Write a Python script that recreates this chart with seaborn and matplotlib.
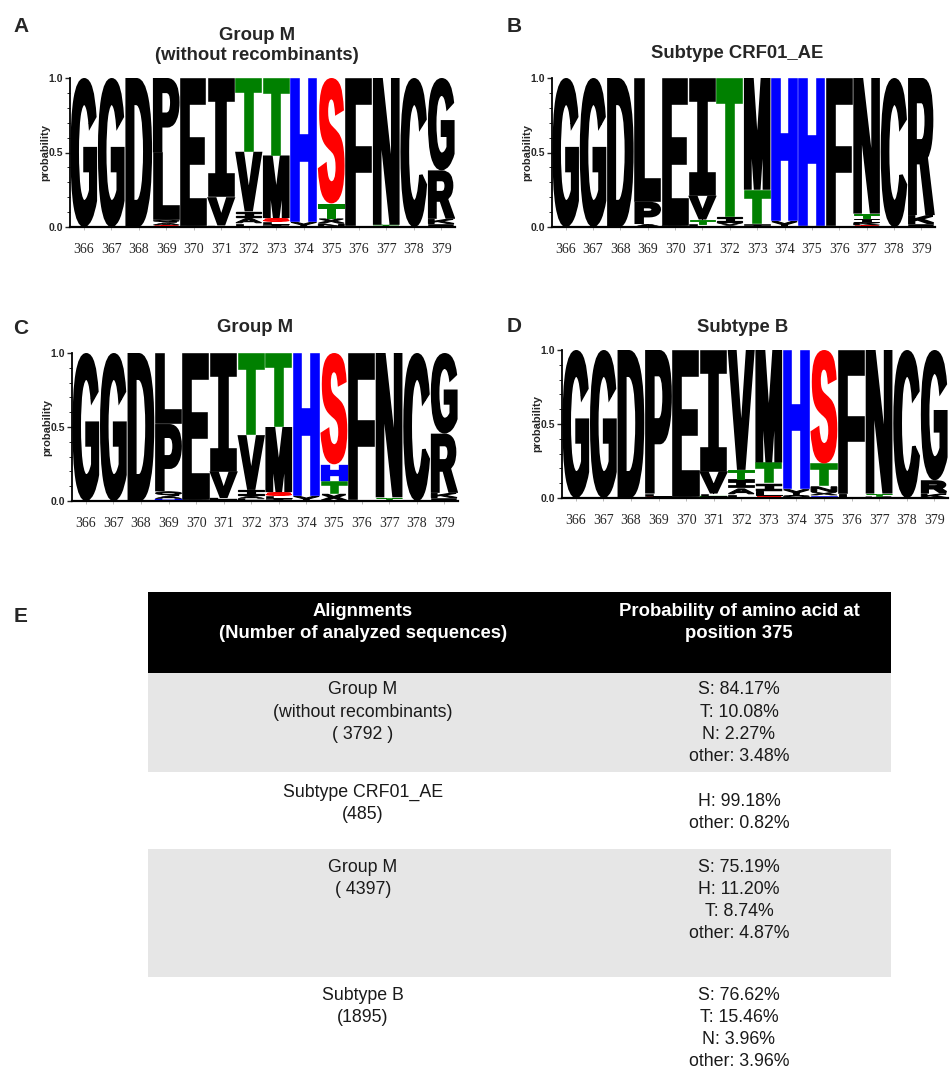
import matplotlib
matplotlib.use("Agg")
import matplotlib.pyplot as plt
import seaborn as sns
from matplotlib.textpath import TextPath
from matplotlib.patches import PathPatch, Rectangle
from matplotlib.font_manager import FontProperties
from matplotlib.transforms import Affine2D
from matplotlib.ticker import MultipleLocator

sns.set_style("ticks")
plt.rcParams["font.family"] = ["Liberation Sans", "DejaVu Sans"]

# ---------------------------------------------------------------- data
positions = [366, 367, 368, 369, 370, 371, 372, 373, 374, 375, 376, 377, 378, 379]

# residue frequencies at position 375 (percent) for each alignment
aln_names = [["Group M", "(without recombinants)"], ["Subtype CRF01_AE"],
             ["Group M"], ["Subtype B"]]
aln_counts = ["( 3792 )", "(485)", "( 4397)", "(1895)"]
res375 = [["S", "T", "N"], ["H"], ["S", "H", "T"], ["S", "T", "N"]]
pct375 = [[84.17, 10.08, 2.27], [99.18], [75.19, 11.20, 8.74], [76.62, 15.46, 3.96]]
other375 = [3.48, 0.82, 4.87, 3.96]
# how the "other" share is drawn in each logo column 375
other375_parts = [[("X", 3.48)], [("X", 0.82)], [("X", 4.87)], [("H", 1.80), ("X", 2.16)]]

# letter probabilities per position (position 375 is filled from the table values)
logo_A = [
    [("G", 1.00)],
    [("G", 1.00)],
    [("D", 1.00)],
    [("S", 0.012), ("A", 0.018), ("Q", 0.020), ("L", 0.45), ("P", 0.50)],
    [("D", 0.01), ("E", 0.99)],
    [("L", 0.01), ("V", 0.19), ("I", 0.80)],
    [("L", 0.025), ("A", 0.035), ("I", 0.045), ("V", 0.40), ("T", 0.495)],
    [("I", 0.015), ("L", 0.020), ("S", 0.025), ("M", 0.42), ("T", 0.52)],
    [("Y", 0.035), ("H", 0.965)],
    None,
    [("L", 0.01), ("F", 0.99)],
    [("T", 0.015), ("N", 0.985)],
    [("C", 1.00)],
    [("E", 0.020), ("K", 0.035), ("R", 0.325), ("G", 0.62)],
]
logo_B = [
    [("G", 1.00)],
    [("G", 1.00)],
    [("D", 1.00)],
    [("A", 0.02), ("P", 0.15), ("L", 0.83)],
    [("D", 0.01), ("E", 0.99)],
    [("L", 0.02), ("T", 0.03), ("V", 0.16), ("I", 0.79)],
    [("A", 0.01), ("V", 0.02), ("I", 0.04), ("T", 0.93)],
    [("I", 0.02), ("T", 0.23), ("M", 0.75)],
    [("Y", 0.04), ("H", 0.96)],
    None,
    [("L", 0.005), ("F", 0.995)],
    [("S", 0.012), ("K", 0.018), ("I", 0.028), ("T", 0.032), ("N", 0.91)],
    [("C", 1.00)],
    [("E", 0.02), ("K", 0.06), ("R", 0.92)],
]
logo_C = [
    [("G", 1.00)],
    [("G", 1.00)],
    [("D", 1.00)],
    [("H", 0.015), ("A", 0.020), ("Q", 0.030), ("P", 0.455), ("L", 0.48)],
    [("D", 0.01), ("E", 0.99)],
    [("T", 0.008), ("L", 0.012), ("V", 0.18), ("I", 0.80)],
    [("L", 0.015), ("A", 0.020), ("I", 0.040), ("V", 0.37), ("T", 0.555)],
    [("I", 0.015), ("L", 0.020), ("S", 0.025), ("M", 0.44), ("T", 0.50)],
    [("Y", 0.035), ("H", 0.965)],
    None,
    [("L", 0.01), ("F", 0.99)],
    [("K", 0.005), ("T", 0.020), ("N", 0.975)],
    [("C", 1.00)],
    [("E", 0.020), ("K", 0.035), ("R", 0.40), ("G", 0.545)],
]
logo_D = [
    [("G", 1.00)],
    [("G", 1.00)],
    [("D", 1.00)],
    [("S", 0.012), ("L", 0.018), ("P", 0.97)],
    [("D", 0.01), ("E", 0.99)],
    [("T", 0.012), ("L", 0.018), ("V", 0.15), ("I", 0.82)],
    [("L", 0.025), ("A", 0.040), ("I", 0.060), ("T", 0.065), ("V", 0.81)],
    [("S", 0.015), ("L", 0.035), ("I", 0.050), ("T", 0.14), ("M", 0.76)],
    [("Q", 0.02), ("Y", 0.04), ("H", 0.94)],
    None,
    [("L", 0.03), ("F", 0.97)],
    [("K", 0.01), ("T", 0.02), ("N", 0.97)],
    [("C", 1.00)],
    [("K", 0.03), ("R", 0.09), ("G", 0.88)],
]
logos = [logo_A, logo_B, logo_C, logo_D]
logo_titles = [["Group M", "(without recombinants)"], ["Subtype CRF01_AE"],
               ["Group M"], ["Subtype B"]]
panel_letters = ["A", "B", "C", "D"]

letter_colors = {"S": "#ff0000", "T": "#008000", "H": "#0000ff"}

# ---------------------------------------------------------------- figure
W, H = 950, 1072
fig = plt.figure(figsize=(W / 100, H / 100), dpi=100)


def fx(px):
    return px / W


def fy(py):
    return 1 - py / H


# ---- table (panel E), drawn in a pixel-coordinate overlay
tab = fig.add_axes([0, 0, 1, 1])
tab.set_xlim(0, W)
tab.set_ylim(H, 0)
tab.axis("off")

row_edges = [592, 673, 772, 849, 977, 1072]
row_fills = ["black", "#e6e6e6", "white", "#e6e6e6", "white"]
for (y0, y1), fc in zip(zip(row_edges[:-1], row_edges[1:]), row_fills):
    tab.add_patch(Rectangle((148, y0), 891 - 148, y1 - y0, facecolor=fc,
                            edgecolor="none"))

col1_x, col2_x = 363, 739
hdr_kw = dict(color="white", fontsize=13.3, fontweight="bold", ha="center", va="center")
tab.text(col1_x, 612, "Alignments", **hdr_kw)
tab.text(col1_x, 633, "(Number of analyzed sequences)", **hdr_kw)
tab.text(col2_x, 612, "Probability of amino acid at", **hdr_kw)
tab.text(col2_x, 634, "position 375", **hdr_kw)

body_kw = dict(color="#1a1a1a", fontsize=12.8, ha="center", va="center")
col1_first = [690, 792, 867, 995]
col2_first = [690, 801, 867, 995]
gap = 22.3
for i in range(4):
    lines1 = aln_names[i] + [aln_counts[i]]
    for k, s in enumerate(lines1):
        tab.text(col1_x, col1_first[i] + k * gap, s, **body_kw)
    lines2 = [f"{r}: {v:.2f}%" for r, v in zip(res375[i], pct375[i])]
    lines2.append(f"other: {other375[i]:.2f}%")
    for k, s in enumerate(lines2):
        tab.text(col2_x, col2_first[i] + k * gap, s, **body_kw)

fig.text(fx(21), fy(617), "E", fontsize=15, fontweight="bold", ha="center", va="center")

# ---- sequence logos
BOLD = FontProperties(family="Liberation Sans", weight="bold")
MONO = FontProperties(family="DejaVu Sans Mono", weight="bold")
_glyphs = {}
STROKE_PX = 3.6   # extra outline that gives the heavy logo lettering


def glyph(ch):
    if ch not in _glyphs:
        path = TextPath((0, 0), ch, size=1, prop=MONO if ch == "I" else BOLD)
        _glyphs[ch] = (path, path.get_extents())
    return _glyphs[ch]


def draw_letter(ax, ch, x, y0, h, px_x, px_y, width=0.97):
    """Draw glyph `ch` filling [x-width/2, x+width/2] x [y0, y0+h].
    px_x / px_y: pixels per data unit along each axis."""
    path, ext = glyph(ch)
    h_px = h * px_y
    stroke = STROKE_PX * min(1.0, h_px / 18.0)
    half_x = stroke / 2 / px_x
    half_y = stroke / 2 / px_y
    w_in = max(width - 2 * half_x, 1e-4)
    h_in = max(h - 2 * half_y, 1e-5)
    tr = (Affine2D().translate(-ext.x0, -ext.y0)
          .scale(w_in / ext.width, h_in / ext.height)
          .translate(x - w_in / 2, y0 + half_y))
    col = letter_colors.get(ch, "black")
    ax.add_patch(PathPatch(tr.transform_path(path), facecolor=col,
                           edgecolor=col if stroke > 0.05 else "none",
                           lw=stroke * 72 / 100, joinstyle="miter"))


panel_boxes = [(70, 78, 455, 227), (552, 78, 935, 227),
               (72, 353, 458, 501), (562, 350, 948, 498)]
title_pos = [(257, [35, 55]), (737, [54]), (255, [327]), (743, [327])]
letter_pos = [(21, 27), (514, 26), (21, 328), (514, 326)]

for idx, (cols, box) in enumerate(zip(logos, panel_boxes)):
    l, t, r, b = box
    ax = fig.add_axes([fx(l), fy(b), (r - l) / W, (b - t) / H])
    ax.set_facecolor("none")
    px_x = (r - l) / 14.0
    px_y = float(b - t)
    full = list(cols)
    col375 = [(res, v / 100) for res, v in zip(res375[idx], pct375[idx])]
    col375 += [(res, v / 100) for res, v in other375_parts[idx]]
    full[positions.index(375)] = col375
    for pos, col in zip(positions, full):
        bottom = 0.0
        for ch, p in sorted(col, key=lambda c: c[1]):
            draw_letter(ax, ch, pos, bottom, p, px_x, px_y)
            bottom += p

    ax.set_xlim(365.5, 379.5)
    ax.set_ylim(0, 1)
    ax.set_xticks(positions)
    ax.set_xticklabels([str(p) for p in positions], family="Liberation Serif",
                       fontsize=10)
    ax.tick_params(axis="x", length=2.5, width=0.6, color="#b0b0b0", pad=9)
    ax.set_yticks([0, 0.5, 1.0])
    ax.set_yticklabels(["0.0", "0.5", "1.0"], fontsize=7.5, fontweight="bold")
    ax.yaxis.set_minor_locator(MultipleLocator(0.1))
    ax.tick_params(axis="y", which="major", length=3.5, width=1.0, pad=1.5)
    ax.tick_params(axis="y", which="minor", length=2, width=0.7)
    sns.despine(ax=ax)
    ax.spines["left"].set_linewidth(1.3)
    ax.spines["bottom"].set_linewidth(1.6)
    ax.spines["left"].set_color("black")
    ax.spines["bottom"].set_color("black")

    fig.text(fx(l - 25), fy((t + b) / 2), "probability", rotation=90, fontsize=8,
             fontweight="bold", ha="center", va="center")
    tx, tys = title_pos[idx]
    for line, ty in zip(logo_titles[idx], tys):
        fig.text(fx(tx), fy(ty), line, fontsize=13.3, fontweight="bold",
                 ha="center", va="center")
    lx, ly = letter_pos[idx]
    fig.text(fx(lx), fy(ly), panel_letters[idx], fontsize=15, fontweight="bold",
             ha="center", va="center")

fig.savefig("out.png", dpi=100)
